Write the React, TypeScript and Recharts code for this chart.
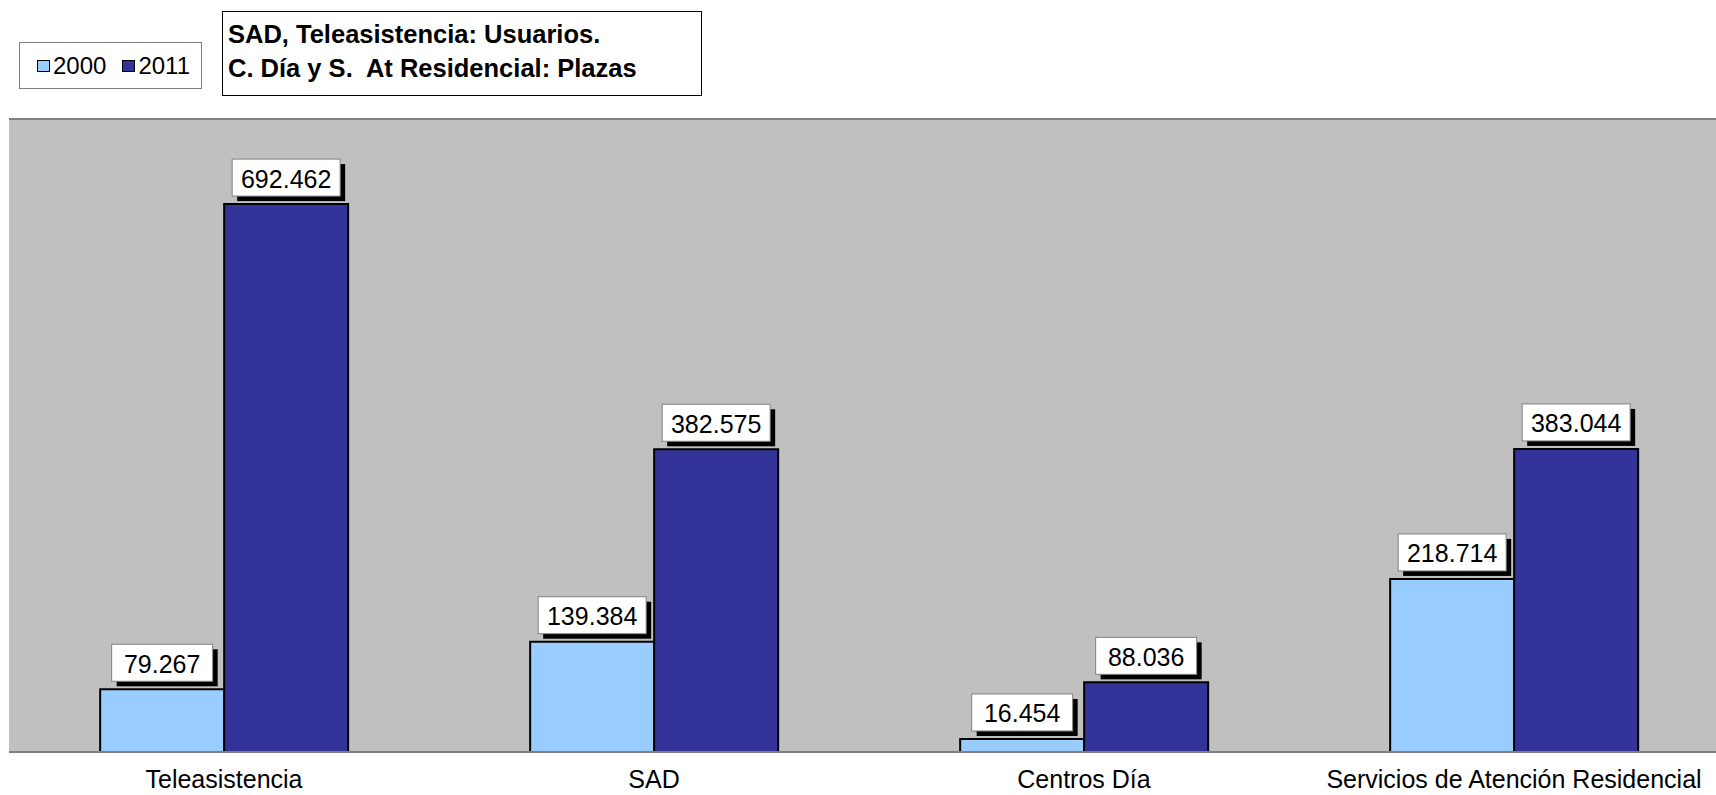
import React from "react";
import {
  Bar,
  BarChart,
  CartesianGrid,
  LabelList,
  Legend,
  ReferenceLine,
  XAxis,
  YAxis,
} from "recharts";

const categories = [
  "Teleasistencia",
  "SAD",
  "Centros Día",
  "Servicios de Atención Residencial",
];
const values2000 = [79267, 139384, 16454, 218714];
const values2011 = [692462, 382575, 88036, 383044];
const seriesNames = ["2000", "2011"];
const titleLines = [
  "SAD, Teleasistencia: Usuarios.",
  "C. Día y S.  At Residencial: Plazas",
];

const data = categories.map((name, i) => ({
  name,
  y2000: values2000[i],
  y2011: values2011[i],
}));

const FONT = '"Liberation Sans", Arial, Helvetica, sans-serif';
const LIGHT = "#99CCFF";
const DARK = "#333399";

// 692462 -> "692.462"
const fmt = (v: number) => String(v).replace(/\B(?=(\d{3})+(?!\d))/g, ".");

const ValueLabel = (props: any) => {
  const { x, y, width, value } = props;
  const text = fmt(Number(value));
  const boxW = 59 + 7 * text.length;
  const boxH = 37;
  const cx = x + width / 2;
  const bx = cx - boxW / 2;
  const by = y - 8 - boxH;
  return (
    <g>
      <rect x={bx + 5} y={by + 5} width={boxW} height={boxH} fill="#000" />
      <rect x={bx} y={by} width={boxW} height={boxH} fill="#fff" stroke="#808080" strokeWidth={1} />
      <text
        x={cx}
        y={by + boxH / 2 + 1}
        textAnchor="middle"
        dominantBaseline="central"
        fontSize={25}
        fontFamily={FONT}
        fill="#000"
      >
        {text}
      </text>
    </g>
  );
};

const LegendBox = () => {
  const colors = [LIGHT, DARK];
  return (
    <div
      style={{
        boxSizing: "border-box",
        width: 183,
        height: 47,
        border: "1px solid #808080",
        background: "#fff",
        display: "flex",
        alignItems: "center",
        paddingLeft: 17,
        fontFamily: FONT,
        fontSize: 24,
        color: "#000",
      }}
    >
      {seriesNames.map((s, i) => (
        <span key={s} style={{ display: "flex", alignItems: "center", marginRight: i === 0 ? 16 : 0 }}>
          <span
            style={{
              display: "inline-block",
              boxSizing: "border-box",
              width: 13,
              height: 12,
              background: colors[i],
              border: "1.5px solid #000",
              marginRight: 3,
            }}
          />
          {s}
        </span>
      ))}
    </div>
  );
};

export default function App() {
  return (
    <div
      style={{
        position: "absolute",
        left: 0,
        top: 0,
        width: 1716,
        height: 795,
        overflow: "hidden",
        background: "#fff",
        fontFamily: FONT,
      }}
    >
      <BarChart
        width={1740}
        height={795}
        data={data}
        margin={{ top: 119, right: 11, bottom: 0, left: 9 }}
        barCategoryGap="21.2%"
        barGap={0}
      >
        <CartesianGrid fill="#C0C0C0" horizontal={false} vertical={false} />
        <XAxis
          dataKey="name"
          height={43}
          interval={0}
          tickLine={false}
          tickMargin={12}
          axisLine={{ stroke: "#808080", strokeWidth: 2 }}
          tick={{ fill: "#000", fontSize: 25, fontFamily: FONT }}
        />
        <YAxis
          width={0}
          domain={[0, 800000]}
          tick={false}
          tickLine={false}
          axisLine={{ stroke: "#808080", strokeWidth: 2 }}
        />
        <ReferenceLine y={800000} stroke="#808080" strokeWidth={2} />
        <Legend
          layout="horizontal"
          align="center"
          verticalAlign="middle"
          wrapperStyle={{ left: 19, top: 42, width: 183, height: 47 }}
          content={() => <LegendBox />}
        />
        <Bar dataKey="y2000" name="2000" fill={LIGHT} stroke="#000" strokeWidth={2} isAnimationActive={false}>
          <LabelList dataKey="y2000" content={ValueLabel} />
        </Bar>
        <Bar dataKey="y2011" name="2011" fill={DARK} stroke="#000" strokeWidth={2} isAnimationActive={false}>
          <LabelList dataKey="y2011" content={ValueLabel} />
        </Bar>
      </BarChart>
      <div
        style={{
          position: "absolute",
          left: 222,
          top: 11,
          width: 480,
          height: 85,
          boxSizing: "border-box",
          border: "1px solid #000",
          background: "#fff",
          paddingLeft: 5,
          paddingTop: 6,
          fontWeight: "bold",
          fontSize: 25.5,
          lineHeight: "33.5px",
          color: "#000",
          whiteSpace: "pre",
        }}
      >
        {titleLines.map((l) => (
          <div key={l}>{l}</div>
        ))}
      </div>
    </div>
  );
}
